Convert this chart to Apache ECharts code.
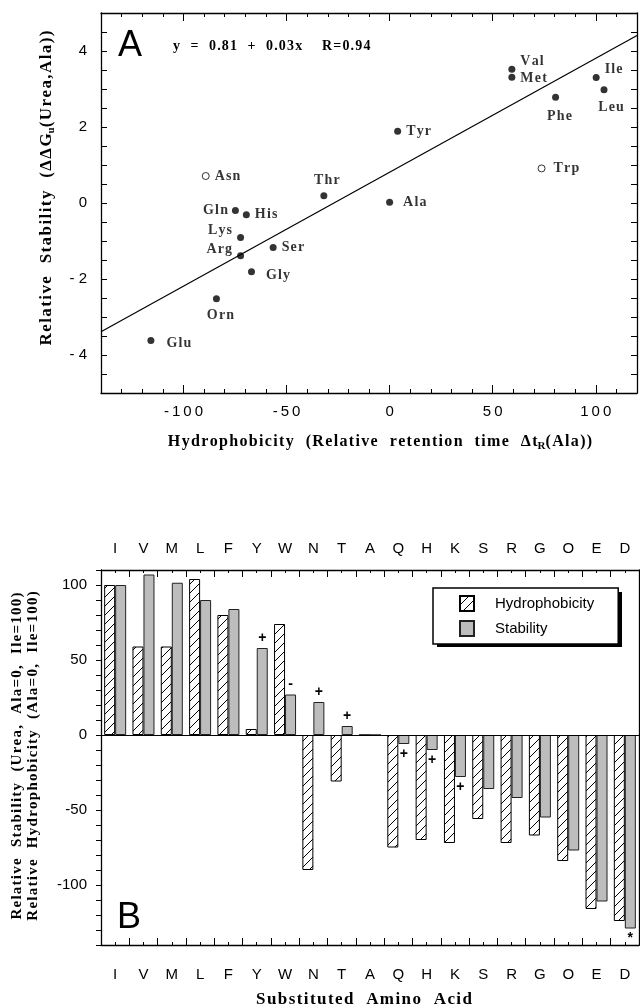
<!DOCTYPE html>
<html>
<head>
<meta charset="utf-8">
<script src="https://cdn.jsdelivr.net/npm/echarts@6/dist/echarts.min.js"></script>
<style>
  html, body { margin: 0; padding: 0; background: #fff; }
  #main { width: 640px; height: 1008px; }
</style>
</head>
<body>
<div id="main"></div>
<script>
// panel A : hydrophobicity vs stability
var residueNames = ['Val', 'Met', 'Ile', 'Leu', 'Phe', 'Tyr', 'Trp', 'Asn', 'Thr', 'Ala', 'Gln', 'His', 'Lys', 'Ser', 'Arg', 'Gly', 'Orn', 'Glu'];
var retentionTime = [59.3, 59.3, 100.2, 104, 80.5, 3.9, 73.7, -89.2, -31.9, 0, -74.8, -69.5, -72.3, -56.5, -72.3, -67, -84, -115.8];
var relStability = [3.52, 3.31, 3.3, 2.98, 2.78, 1.89, 0.91, 0.71, 0.19, 0.02, -0.2, -0.31, -0.91, -1.17, -1.39, -1.81, -2.52, -3.62];
var openResidues = ['Trp', 'Asn'];
var fitLine = [[-140, -3.39], [120, 4.41]];
var xLabelTicks = [-100, -50, 0, 50, 100];
var yLabelTicks = [-4, -2, 0, 2, 4];

// panel B : bar chart
var aminoCodes = ['I', 'V', 'M', 'L', 'F', 'Y', 'W', 'N', 'T', 'A', 'Q', 'H', 'K', 'S', 'R', 'G', 'O', 'E', 'D'];
var hydroValues = [100, 59, 59, 104, 80, 4, 74, -90, -31, 0, -75, -70, -72, -56, -72, -67, -84, -116, -124];
var stabValues = [100, 107, 101.5, 90, 84, 58, 27, 22, 6, 0, -6, -10, -28, -36, -42, -55, -77, -111, -129];
var stabMarks = ['', '', '', '', '', '+', '-', '+', '+', '', '+', '+', '+', '', '', '', '', '', '*'];
var barYTicks = [-100, -50, 0, 50, 100];

var SANS = 'Liberation Sans, Arial, sans-serif';
var SERIF = 'Liberation Serif, Times New Roman, serif';

// loose tracking like the printed figure
function spaced(s) {
	return s.split('').join('\u200a');
}

var labelSpot = {
	Val: { position: 'right', offset: [0, -8] },
	Met: { position: 'right', offset: [0, 1] },
	Ile: { position: 'right', offset: [0, -8] },
	Leu: { position: 'bottom', offset: [7, 2] },
	Phe: { position: 'bottom', offset: [4, 4] },
	Tyr: { position: 'right', offset: [0, 0] },
	Trp: { position: 'right', offset: [3, 0] },
	Asn: { position: 'right', offset: [0, 0] },
	Thr: { position: 'top', offset: [3, 0] },
	Ala: { position: 'right', offset: [5, 0] },
	Gln: { position: 'left', offset: [1, 0] },
	His: { position: 'right', offset: [0, 0] },
	Lys: { position: 'left', offset: [0, -7] },
	Ser: { position: 'right', offset: [0, 0] },
	Arg: { position: 'left', offset: [0, -6] },
	Gly: { position: 'right', offset: [6, 4] },
	Orn: { position: 'bottom', offset: [4, 1] },
	Glu: { position: 'right', offset: [7, 3] }
};

function makeHatch() {
	var c = document.createElement('canvas');
	c.width = 9; c.height = 9;
	var ctx = c.getContext('2d');
	ctx.fillStyle = '#fff';
	ctx.fillRect(0, 0, 9, 9);
	ctx.strokeStyle = '#000';
	ctx.lineWidth = 1;
	ctx.beginPath();
	ctx.moveTo(0, 9); ctx.lineTo(9, 0);
	ctx.moveTo(-2, 2); ctx.lineTo(2, -2);
	ctx.moveTo(7, 11); ctx.lineTo(11, 7);
	ctx.stroke();
	return c;
}

var scatterData = [];
for (var i = 0; i < residueNames.length; i++) {
	var nm = residueNames[i];
	var isOpen = openResidues.indexOf(nm) >= 0;
	scatterData.push({
		name: nm,
		value: [retentionTime[i], relStability[i]],
		itemStyle: isOpen ? { color: '#fff', borderColor: '#000', borderWidth: 1 } : { color: '#000' },
		label: { show: true, position: labelSpot[nm].position, offset: labelSpot[nm].offset }
	});
}

var stabData = [];
for (var j = 0; j < stabValues.length; j++) {
	var item = { value: stabValues[j] };
	if (stabMarks[j]) {
		item.label = {
			show: true,
			formatter: stabMarks[j],
			position: stabValues[j] >= 0 ? 'top' : 'bottom',
			distance: 3,
			fontFamily: SANS, fontWeight: 'bold', fontSize: 14, color: '#000'
		};
	}
	stabData.push(item);
}

function valueTickAxis(pos, labels) {
	return {
		type: 'value', gridIndex: 0, position: pos,
		min: -140, max: 120, interval: 10,
		axisLine: { show: true, onZero: false, lineStyle: { color: '#000', width: 1.3 } },
		axisTick: { show: true, inside: true, length: 4, lineStyle: { color: '#000' } },
		axisLabel: labels ? {
			show: true, margin: 11, color: '#000', fontFamily: SANS, fontSize: 15,
			formatter: function (v) {
				if (xLabelTicks.indexOf(v) < 0) return '';
				return String(v).split('').join('\u2009');
			}
		} : { show: false },
		splitLine: { show: false }
	};
}

function longTickAxis(pos) {
	return {
		type: 'value', gridIndex: 0, position: pos,
		min: -140, max: 120, interval: 10,
		axisLine: { show: false, onZero: false },
		axisTick: { show: true, inside: true, length: 8, customValues: xLabelTicks, lineStyle: { color: '#000' } },
		axisLabel: { show: false },
		splitLine: { show: false }
	};
}

function stabYAxis(pos, labels) {
	return {
		type: 'value', gridIndex: 0, position: pos,
		min: -5, max: 5, interval: 0.5,
		axisLine: { show: true, onZero: false, lineStyle: { color: '#000', width: 1.3 } },
		axisTick: { show: true, inside: true, length: 6, lineStyle: { color: '#000' } },
		axisLabel: labels ? {
			show: true, margin: 14, color: '#000', fontFamily: SANS, fontSize: 15,
			formatter: function (v) {
				if (yLabelTicks.indexOf(v) < 0) return '';
				return v < 0 ? '- ' + (-v) : String(v);
			}
		} : { show: false },
		splitLine: { show: false }
	};
}

function catAxis(pos, labels, centred) {
	return {
		type: 'category', gridIndex: 1, position: pos, data: aminoCodes,
		axisLine: { show: !centred, onZero: false, lineStyle: { color: '#000', width: 1.3 } },
		axisTick: { show: true, inside: true, interval: 0, alignWithLabel: centred, length: centred ? 3 : 7, lineStyle: { color: '#000' } },
		axisLabel: labels ? {
			show: true, interval: 0, margin: pos === 'top' ? 14 : 22,
			color: '#000', fontFamily: SANS, fontSize: 15
		} : { show: false },
		splitLine: { show: false }
	};
}

var myChart = echarts.init(document.getElementById('main'));
var hatch = makeHatch();

var richTitle = {
	b: { fontFamily: SERIF, fontWeight: 'bold', fontSize: 16, fill: '#000' },
	s: { fontFamily: SERIF, fontWeight: 'bold', fontSize: 11, fill: '#000', padding: [9, 0, 0, 0] }
};

var option = {
	animation: false,
	backgroundColor: '#fff',
	grid: [
		{ left: 101, right: 1, top: 13, height: 380 },
		{ left: 101, right: 1, top: 570, height: 375 }
	],
	xAxis: [
		valueTickAxis('bottom', true),
		valueTickAxis('top', false),
		longTickAxis('bottom'),
		longTickAxis('top'),
		catAxis('bottom', true, false),
		catAxis('top', true, false),
		catAxis('bottom', false, true),
		catAxis('top', false, true)
	],
	yAxis: [
		stabYAxis('left', true),
		stabYAxis('right', false),
		{
			type: 'value', gridIndex: 1, position: 'left',
			min: -140, max: 110, interval: 10,
			axisLine: { show: true, onZero: false, lineStyle: { color: '#000', width: 1.3 } },
			axisTick: { show: true, inside: false, length: 5, lineStyle: { color: '#000' } },
			axisLabel: {
				show: true, margin: 14, color: '#000', fontFamily: SANS, fontSize: 15,
				formatter: function (v) { return barYTicks.indexOf(v) >= 0 ? String(v) : ''; }
			},
			splitLine: { show: false }
		},
		{
			type: 'value', gridIndex: 1, position: 'right',
			min: -140, max: 110,
			axisLine: { show: true, onZero: false, lineStyle: { color: '#000', width: 1.3 } },
			axisTick: { show: false }, axisLabel: { show: false }, splitLine: { show: false }
		}
	],
	legend: {
		data: ['Hydrophobicity', 'Stability'],
		orient: 'vertical', left: 433, top: 588,
		padding: [7, 24, 7, 26],
		itemWidth: 14, itemHeight: 15, itemGap: 8,
		icon: 'rect',
		backgroundColor: '#fff', borderColor: '#000', borderWidth: 1.5, borderRadius: 0,
		textStyle: { fontFamily: SANS, fontSize: 15, color: '#000', padding: [0, 0, 0, 16] }
	},
	series: [
		{
			type: 'line', xAxisIndex: 0, yAxisIndex: 0,
			data: fitLine, showSymbol: false, symbol: 'none', silent: true,
			lineStyle: { color: '#000', width: 1.2 }
		},
		{
			type: 'scatter', xAxisIndex: 0, yAxisIndex: 0,
			symbolSize: 7, data: scatterData,
			label: {
				formatter: function (p) { return spaced(p.name); },
				color: '#000', fontFamily: SERIF, fontWeight: 'bold', fontSize: 14, distance: 5
			}
		},
		{
			name: 'Hydrophobicity', type: 'bar', xAxisIndex: 4, yAxisIndex: 2,
			data: hydroValues, barWidth: 11, barGap: '0%',
			itemStyle: { color: { image: hatch, repeat: 'repeat' }, borderColor: '#000', borderWidth: 1 }
		},
		{
			name: 'Stability', type: 'bar', xAxisIndex: 4, yAxisIndex: 2,
			data: stabData, barWidth: 11, barGap: '0%',
			itemStyle: { color: '#bdbdbd', borderColor: '#222', borderWidth: 1 },
			markLine: {
				silent: true, symbol: 'none', label: { show: false },
				lineStyle: { color: '#000', width: 1.2, type: 'solid' },
				data: [{ yAxis: 0 }]
			}
		}
	],
	graphic: [
		// drop shadow behind the legend box
		{ type: 'rect', z: 1, shape: { x: 437, y: 592, width: 185, height: 55 }, style: { fill: '#000' } },
		{ type: 'text', x: 118, y: 46, style: { text: 'A', fontFamily: SANS, fontSize: 36, fill: '#000', verticalAlign: 'middle' } },
		{ type: 'text', x: 173, y: 46, style: { text: spaced('y  =  0.81  +  0.03x    R=0.94'), fontFamily: SERIF, fontWeight: 'bold', fontSize: 14, fill: '#000', verticalAlign: 'middle' } },
		{
			type: 'text', x: 47, y: 188, rotation: Math.PI / 2,
			style: {
				text: '{b|' + spaced('Relative  Stability  (ΔΔG') + '}{s|u}{b|' + spaced('(Urea,Ala))') + '}',
				align: 'center', verticalAlign: 'middle',
				rich: {
					b: { fontFamily: SERIF, fontWeight: 'bold', fontSize: 17, fill: '#000' },
					s: { fontFamily: SERIF, fontWeight: 'bold', fontSize: 11, fill: '#000', padding: [9, 0, 0, 0] }
				}
			}
		},
		{
			type: 'text', x: 380, y: 442,
			style: {
				text: '{b|' + spaced('Hydrophobicity  (Relative  retention  time  Δt') + '}{s|R}{b|' + spaced('(Ala))') + '}',
				align: 'center', verticalAlign: 'middle',
				rich: richTitle
			}
		},
		{ type: 'text', x: 117, y: 918, style: { text: 'B', fontFamily: SANS, fontSize: 36, fill: '#000', verticalAlign: 'middle' } },
		{
			type: 'text', x: 17, y: 756, rotation: Math.PI / 2,
			style: { text: spaced('Relative  Stability  (Urea,  Ala=0,  Ile=100)'), align: 'center', verticalAlign: 'middle', fontFamily: SERIF, fontWeight: 'bold', fontSize: 15, fill: '#000' }
		},
		{
			type: 'text', x: 33, y: 756, rotation: Math.PI / 2,
			style: { text: spaced('Relative  Hydrophobicity  (Ala=0,  Ile=100)'), align: 'center', verticalAlign: 'middle', fontFamily: SERIF, fontWeight: 'bold', fontSize: 15, fill: '#000' }
		},
		{
			type: 'text', x: 364, y: 1000,
			style: { text: spaced('Substituted  Amino  Acid'), align: 'center', verticalAlign: 'middle', fontFamily: SERIF, fontWeight: 'bold', fontSize: 17, fill: '#000' }
		}
	]
};
myChart.setOption(option);
</script>
</body>
</html>
